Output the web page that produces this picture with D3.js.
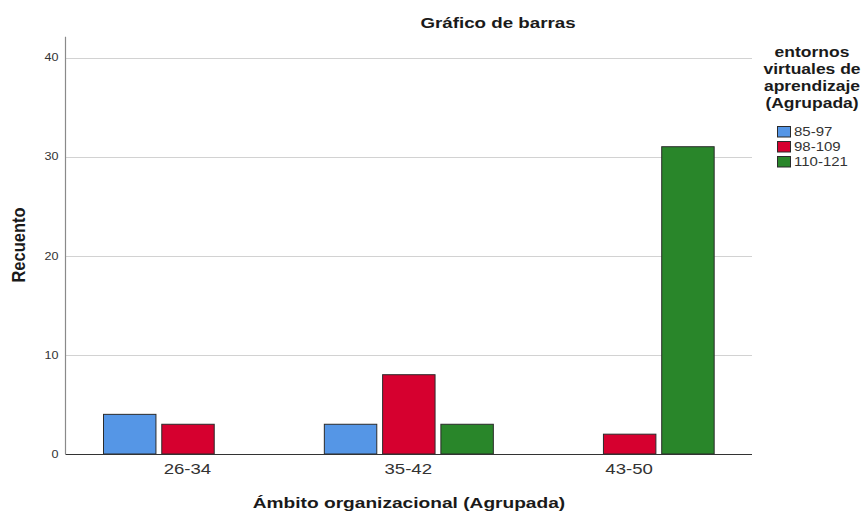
<!DOCTYPE html>
<html>
<head>
<meta charset="utf-8">
<script src="https://cdn.jsdelivr.net/npm/d3@7"></script>
<style>
  html, body { margin: 0; padding: 0; background: #fff; }
  svg { display: block; }
  text { font-family: "Liberation Sans", Arial, sans-serif; }
</style>
</head>
<body>
<script>
// ---- data ----
const categories = ["26-34", "35-42", "43-50"];
const seriesNames = ["85-97", "98-109", "110-121"];
const series8597 = [4, 3, 0];
const series98109 = [3, 8, 2];
const series110121 = [0, 3, 31];
const yTicks = [0, 10, 20, 30, 40];
const colors = ["#5596e6", "#d6002f", "#29862a"];

const chartTitle = "Gráfico de barras";
const xTitle = "Ámbito organizacional (Agrupada)";
const yTitle = "Recuento";
const legendTitle = ["entornos", "virtuales de", "aprendizaje", "(Agrupada)"];

const allSeries = [series8597, series98109, series110121];

const W = 868, H = 513;
const SX = 1.25; // horizontal text stretch of the reference

const svg = d3.select("body").append("svg").attr("width", W).attr("height", H);

const x = d3.scaleBand().domain(categories).range([77, 739.5]).paddingInner(0).paddingOuter(0);
const xs = d3.scaleBand().domain(seriesNames).range([26, 195]).paddingInner(0.1).paddingOuter(0);
const y = d3.scaleLinear().domain([0, 40]).range([454, 57.5]);

const plotL = 65.5, plotR = 752;

// gridlines
svg.append("g").selectAll("line").data(yTicks.filter(d => d > 0)).join("line")
  .attr("x1", plotL).attr("x2", plotR)
  .attr("y1", d => Math.round(y(d)) + 0.5).attr("y2", d => Math.round(y(d)) + 0.5)
  .attr("stroke", "#d2d2d2").attr("stroke-width", 1.2);

// y axis via d3.axisLeft (labels only, styled)
const yAxis = svg.append("g").attr("transform", `translate(${plotL},0)`)
  .call(d3.axisLeft(y).tickValues(yTicks).tickSize(0).tickPadding(7).tickFormat(d3.format("d")));
yAxis.select(".domain").remove();
yAxis.selectAll("text")
  .attr("font-size", 10.5).attr("fill", "#333")
  .attr("font-family", "Liberation Sans, Arial, sans-serif")
  .each(function () {
    const t = d3.select(this);
    const yy = +t.attr("y") || 0;
  })
  .attr("transform", function () { return `scale(${1.2},1)`; })
  .attr("x", -7 / 1.2);

// y axis line
svg.append("line").attr("x1", plotL).attr("x2", plotL).attr("y1", y(42.1)).attr("y2", y(0))
  .attr("stroke", "#8a8a8a").attr("stroke-width", 1.2);

// bars
const groups = svg.append("g").selectAll("g").data(categories).join("g")
  .attr("transform", d => `translate(${x(d)},0)`);
groups.selectAll("rect")
  .data((c, i) => seriesNames.map((s, j) => ({ s, j, v: allSeries[j][i] })).filter(d => d.v > 0))
  .join("rect")
  .attr("x", d => xs(d.s) + 0.5)
  .attr("width", xs.bandwidth())
  .attr("y", d => y(d.v))
  .attr("height", d => y(0) - y(d.v))
  .attr("fill", d => colors[d.j])
  .attr("stroke", "#2b2b2b").attr("stroke-width", 1);

// x axis line
svg.append("line").attr("x1", plotL).attr("x2", plotR).attr("y1", 454.5).attr("y2", 454.5)
  .attr("stroke", "#333").attr("stroke-width", 1.2);

// x axis labels using d3.axisBottom
const xAxis = svg.append("g").attr("transform", "translate(0,454)")
  .call(d3.axisBottom(x).tickSize(0).tickPadding(0));
xAxis.select(".domain").remove();
xAxis.selectAll("text")
  .attr("font-size", 15.5).attr("fill", "#333")
  .attr("font-family", "Liberation Sans, Arial, sans-serif")
  .attr("dy", null).attr("y", 20)
  .attr("transform", null);
xAxis.selectAll(".tick").each(function () {
  const tr = d3.select(this).attr("transform");
  d3.select(this).attr("transform", tr + ` scale(1.2,1)`);
});

// helper for stretched text
function stext(px, py, str, size, weight, anchor, sx) {
  return svg.append("text")
    .attr("transform", `translate(${px},${py}) scale(${sx || SX},1)`)
    .attr("text-anchor", anchor || "middle")
    .attr("font-size", size).attr("font-weight", weight || "normal")
    .attr("fill", "#1a1a1a")
    .text(str);
}

// titles
stext(498, 28, chartTitle, 15, "bold", "middle", 1.25);
stext(409, 508, xTitle, 15.2, "bold", "middle", 1.26);

svg.append("text")
  .attr("transform", `translate(25,245) rotate(-90) scale(1,1.12)`)
  .attr("text-anchor", "middle").attr("font-size", 16.5).attr("font-weight", "bold")
  .attr("fill", "#1a1a1a").text(yTitle);

// legend
legendTitle.forEach((t, i) => stext(812, 57 + i * 17, t, 14, "bold", "middle", 1.25));
const lg = svg.append("g");
seriesNames.forEach((s, j) => {
  lg.append("rect").attr("x", 777.5).attr("y", 126.5 + j * 15).attr("width", 13).attr("height", 10.5)
    .attr("fill", colors[j]).attr("stroke", "#2b2b2b").attr("stroke-width", 1);
  stext(794, 136 + j * 15, s, 12.5, "normal", "start", 1.2).attr("fill", "#333");
});
</script>
</body>
</html>
